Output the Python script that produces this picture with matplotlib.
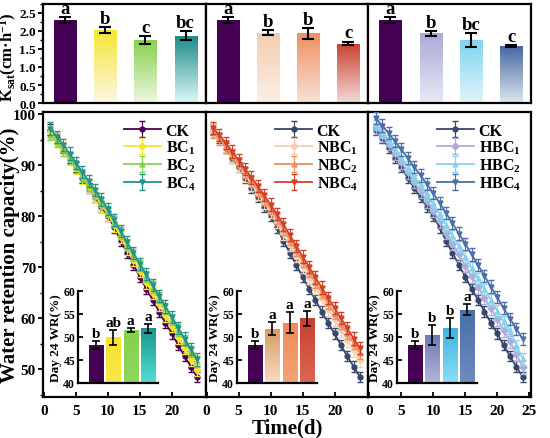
import numpy as np
import matplotlib.pyplot as plt
from matplotlib.colors import LinearSegmentedColormap
from matplotlib.ticker import MultipleLocator

plt.rcParams['font.family'] = ['Liberation Serif', 'DejaVu Serif']
plt.rcParams['font.weight'] = 'bold'
plt.rcParams['mathtext.fontset'] = 'custom'
plt.rcParams['mathtext.rm'] = 'Liberation Serif:bold'
plt.rcParams['mathtext.bf'] = 'Liberation Serif:bold'
plt.rcParams['mathtext.it'] = 'Liberation Serif:bold'
plt.rcParams['axes.linewidth'] = 1.6

# ---- data ----
days = list(range(1, 25))

ck = [97.0, 95.3, 93.4, 91.5, 89.6, 87.6, 85.6, 83.7, 81.9, 80.0, 77.8, 75.2,
      72.8, 70.5, 68.1, 65.8, 63.6, 61.3, 59.1, 57.0, 54.7, 52.5, 50.5, 48.4]
bc1 = [96.5, 95.0, 93.2, 91.4, 89.5, 87.7, 85.8, 84.0, 82.2, 80.4, 78.3, 76.0,
       73.7, 71.5, 69.3, 67.1, 65.0, 62.8, 60.6, 58.5, 56.3, 54.2, 52.0, 49.9]
bc2 = [96.0, 94.6, 93.0, 91.3, 89.6, 87.9, 86.1, 84.4, 82.6, 80.9, 78.9, 76.7,
       74.5, 72.4, 70.3, 68.2, 66.1, 64.0, 61.9, 59.8, 57.7, 55.6, 53.5, 51.5]
bc4 = [97.2, 95.6, 94.0, 92.3, 90.5, 88.7, 86.9, 85.1, 83.3, 81.4, 79.3, 77.1,
       74.9, 72.8, 70.7, 68.6, 66.5, 64.4, 62.3, 60.2, 58.1, 56.0, 53.9, 51.9]
nbc1 = [96.8, 95.3, 93.6, 91.8, 90.0, 88.1, 86.3, 84.5, 82.7, 80.9, 78.9, 76.7,
        74.5, 72.4, 70.2, 68.1, 66.0, 63.9, 61.8, 59.8, 57.7, 55.7, 53.7, 51.8]
nbc2 = [96.5, 95.1, 93.6, 92.0, 90.3, 88.6, 86.9, 85.1, 83.3, 81.5, 79.6, 77.5,
        75.4, 73.3, 71.2, 69.1, 67.0, 65.0, 62.9, 60.9, 58.9, 57.0, 55.0, 53.1]
nbc4 = [97.3, 95.9, 94.3, 92.7, 91.0, 89.3, 87.6, 85.9, 84.1, 82.3, 80.4, 78.4,
        76.3, 74.2, 72.1, 70.1, 68.0, 66.0, 64.0, 62.0, 60.0, 58.0, 56.0, 54.1]
hbc1 = [97.5, 95.9, 94.2, 92.4, 90.6, 88.7, 86.8, 84.9, 83.0, 81.1, 79.0, 76.8,
        74.6, 72.5, 70.3, 68.2, 66.1, 64.0, 61.9, 59.8, 57.6, 55.5, 52.9, 50.4]
hbc2 = [98.0, 96.5, 94.9, 93.2, 91.5, 89.7, 87.9, 86.1, 84.3, 82.4, 80.4, 78.3,
        76.2, 74.1, 72.0, 69.9, 67.8, 65.7, 63.6, 61.5, 59.4, 57.6, 54.7, 52.0]
hbc4 = [99.2, 97.8, 96.3, 94.7, 93.1, 91.4, 89.7, 88.0, 86.3, 84.5, 82.6, 80.6,
        78.6, 76.6, 74.6, 72.5, 70.4, 68.3, 66.2, 64.1, 62.0, 59.9, 57.9, 55.9]
line_err = [1.0, 1.3, 1.1, 1.2]

names = [['CK', 'BC$_\\mathbf{1}$', 'BC$_\\mathbf{2}$', 'BC$_\\mathbf{4}$'],
         ['CK', 'NBC$_\\mathbf{1}$', 'NBC$_\\mathbf{2}$', 'NBC$_\\mathbf{4}$'],
         ['CK', 'HBC$_\\mathbf{1}$', 'HBC$_\\mathbf{2}$', 'HBC$_\\mathbf{4}$']]
curves = [[ck, bc1, bc2, bc4], [ck, nbc1, nbc2, nbc4], [ck, hbc1, hbc2, hbc4]]
wr_ticks = [50, 60, 70, 80, 90, 100]
wr_ticklabels = ['50', '60', '70', '80', '90', '100']
day_ticks = [0, 5, 10, 15, 20, 25]

ksat = [[2.30, 2.03, 1.75, 1.87], [2.30, 1.95, 1.93, 1.65], [2.30, 1.93, 1.74, 1.57]]
ksat_err = [[0.08, 0.08, 0.10, 0.13], [0.08, 0.07, 0.15, 0.05], [0.08, 0.06, 0.20, 0.03]]
ksat_lab = [['a', 'b', 'c', 'bc'], ['a', 'b', 'b', 'c'], ['a', 'b', 'bc', 'c']]
ksat_ticks = [0, 0.5, 1.0, 1.5, 2.0, 2.5]
ksat_ticklabels = ['0.0', '0.5', '1.0', '1.5', '2.0', '2.5']

wr24 = [[48.3, 49.9, 51.5, 51.9], [48.3, 51.8, 53.1, 54.1], [48.3, 50.4, 52.0, 55.9]]
wr24_err = [[0.8, 1.7, 0.4, 1.0], [0.8, 1.4, 2.3, 1.6], [0.8, 2.2, 2.2, 1.2]]
wr24_lab = [['b', 'ab', 'a', 'a'], ['b', 'a', 'a', 'a'], ['b', 'b', 'b', 'a']]

# ---- styles ----
line_cols = [['#440154', '#f5e52a', '#86d04e', '#22948c'],
             ['#38466a', '#f6cfb1', '#ef8d5e', '#d2402a'],
             ['#38466a', '#aaaed8', '#86d3ef', '#4a6ea8']]
markers = ['o', 'D', '^', 'v']
top_grad = [[('#440154', '#440154'), ('#f6e536', '#fbf8e2'), ('#86d04e', '#eef7e2'), ('#1c8a85', '#dcf8f8')],
            [('#440154', '#440154'), ('#f2cdb0', '#fbefe7'), ('#ef9062', '#f9e1d6'), ('#c9402f', '#f3dad7')],
            [('#440154', '#440154'), ('#a8abd6', '#e9e9f3'), ('#7fd4f0', '#e2f5fb'), ('#4669a2', '#e0e5ef')]]
ins_grad = [[('#440154', '#440154'), ('#f6e32c', '#f8e84a'), ('#86d04e', '#8fd65a'), ('#1b958a', '#4fe0d6')],
            [('#440154', '#440154'), ('#d99a63', '#f8dcc6'), ('#ee8a55', '#f3a577'), ('#c9402f', '#dd6652')],
            [('#440154', '#440154'), ('#6f78b3', '#b5b6dc'), ('#3db4e2', '#8ddcf3'), ('#4a6ea8', '#6c8cbf')]]


def grad_bar(ax, x, h, w, ctop, cbot, base=0.0):
    b = ax.bar(x, h - base, w, bottom=base, color='none', edgecolor='none', zorder=2)[0]
    cmap = LinearSegmentedColormap.from_list('g', [cbot, ctop])
    im = ax.imshow(np.linspace(0, 1, 100).reshape(-1, 1), cmap=cmap, origin='lower',
                   extent=[x - w / 2, x + w / 2, base, h], aspect='auto', zorder=2)
    im.set_clip_path(b)


fig = plt.figure(figsize=(5.5, 4.39), dpi=100)
W = 162.7 / 550
lefts = [43 / 550, 205.7 / 550, 368.4 / 550]
ins_left = [78 / 550, 237 / 550, 397 / 550]

for k in range(3):
    # top bar panel
    at = fig.add_axes([lefts[k], 0.763, W, 0.226])
    for i in range(4):
        grad_bar(at, i, ksat[k][i], 0.55, *top_grad[k][i])
        at.errorbar(i, ksat[k][i], yerr=ksat_err[k][i], color='black', capsize=4,
                    elinewidth=1.5, capthick=1.5, zorder=3)
        at.text(i, ksat[k][i] + ksat_err[k][i] + 0.01, ksat_lab[k][i], ha='center',
                va='bottom', fontsize=13.5, fontweight='bold')
    at.set_xlim(-0.55, 3.5)
    at.set_ylim(0, 2.75)
    at.set_xticks([])
    if k == 0:
        at.set_yticks(ksat_ticks)
        at.set_yticklabels(ksat_ticklabels, fontweight='bold')
        at.yaxis.set_minor_locator(MultipleLocator(0.25))
        at.tick_params(axis='y', which='major', direction='out', labelsize=9.5, pad=1.5,
                       width=1.3, length=3.5)
        at.tick_params(axis='y', which='minor', direction='out', width=1.0, length=2)
        at.set_ylabel('K$_{sat}$(cm·h$^{-1}$)', fontsize=12, fontweight='bold')
        at.yaxis.set_label_coords(-0.148, 0.47)
    else:
        at.set_yticks([])

    # bottom line panel
    ab = fig.add_axes([lefts[k], 0.093, W, 0.649])
    for i in range(4):
        ab.errorbar(days, curves[k][i], yerr=line_err[i], color=line_cols[k][i],
                    marker=markers[i], markersize=3.5, linewidth=1.3, elinewidth=0.8,
                    capsize=2.5, label=names[k][i], zorder=2 + i)
    ab.set_xlim(-0.15, 25.3)
    ab.set_ylim(44.5, 100.4)
    nx = 6 if k == 2 else 5
    ab.set_xticks(day_ticks[:nx])
    ab.set_xticklabels([str(d) for d in day_ticks[:nx]], fontweight='bold')
    ab.tick_params(axis='x', direction='in', labelsize=11, width=1.3, pad=5)
    if k == 0:
        ab.set_yticks(wr_ticks)
        ab.set_yticklabels(wr_ticklabels, fontweight='bold')
        ab.yaxis.set_minor_locator(MultipleLocator(5))
        ab.tick_params(axis='y', which='major', direction='out', labelsize=11, pad=1.5,
                       width=1.3, length=3.5)
        ab.tick_params(axis='y', which='minor', direction='out', width=1.0, length=2)
        ab.set_ylabel('Water retention capacity(%)', fontsize=15, fontweight='bold')
        ab.yaxis.set_label_coords(-0.14, 0.5)
    else:
        ab.set_yticks([])
    if k == 1:
        ab.set_xlabel('Time(d)', fontsize=15, fontweight='bold', labelpad=0)
    ab.legend(loc='upper right', frameon=False, fontsize=11.5, handlelength=2.3,
              labelspacing=0.02, borderaxespad=0.25, handletextpad=0.3)

    # inset
    ai = fig.add_axes([ins_left[k], 55 / 439, 80 / 550, 92 / 439])
    ai.patch.set_alpha(0)
    for i in range(4):
        grad_bar(ai, i, wr24[k][i], 0.8, *ins_grad[k][i], base=40)
        ai.errorbar(i, wr24[k][i], yerr=wr24_err[k][i], color='black', capsize=3,
                    elinewidth=1.2, capthick=1.2, zorder=3)
        ai.text(i, wr24[k][i] + wr24_err[k][i] + 0.2, wr24_lab[k][i], ha='center',
                va='bottom', fontsize=11, fontweight='bold')
    ai.set_xlim(-1.0, 3.55)
    ai.set_ylim(40, 60)
    ai.set_xticks([])
    ai.set_yticks([40, 45, 50, 55, 60])
    ai.tick_params(axis='y', direction='in', labelsize=8.5, width=1.3, pad=2)
    for lab in ai.get_yticklabels():
        lab.set_fontweight('bold')
    ai.spines['top'].set_visible(False)
    ai.spines['right'].set_visible(False)
    ai.set_ylabel('Day 24 WR(%)', fontsize=9.5, fontweight='bold', labelpad=1)

fig.savefig('out.png', dpi=100)
